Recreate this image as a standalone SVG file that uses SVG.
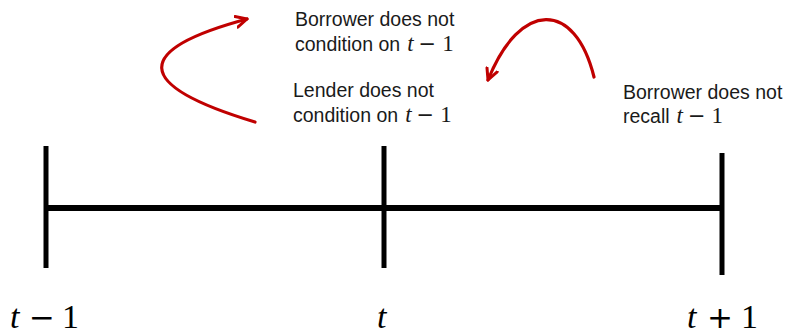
<svg xmlns="http://www.w3.org/2000/svg" width="793" height="334" viewBox="0 0 793 334">
<style>
.lbl{font-family:"Liberation Sans",Arial,sans-serif;font-size:19.5px;fill:#1a1a1a}
.m{font-family:"Liberation Serif","DejaVu Serif",serif;font-size:23px}
.op{font-family:"DejaVu Sans",sans-serif;font-size:21px}
.i{font-style:italic}
.tick{font-family:"Liberation Serif","DejaVu Serif",serif;font-size:34px;fill:#000}
.top{font-family:"DejaVu Sans",sans-serif;font-size:31px}
.axis{stroke:#000;stroke-width:5;fill:none}
.red{stroke:#C00000;stroke-width:3.2;fill:none;stroke-linecap:round}
</style>
<defs>
<marker id="ah" viewBox="0 0 14 14" refX="12" refY="7" markerWidth="14" markerHeight="14" markerUnits="userSpaceOnUse" orient="auto">
<path d="M1,1.5 L12,7 L1,12.5" fill="none" stroke="#C00000" stroke-width="3" stroke-linecap="round" stroke-linejoin="round"/>
</marker>
</defs>
<g id="timeline">
<line class="axis" x1="46" y1="208" x2="722" y2="208" style="stroke-width:6"/>
<line class="axis" x1="46" y1="146" x2="46" y2="268"/>
<line class="axis" x1="384" y1="146" x2="384" y2="268"/>
<line class="axis" x1="722" y1="153" x2="722" y2="275"/>
</g>
<g id="tick-labels">
<text class="tick" y="328"><tspan class="i" x="10">t</tspan><tspan class="top" x="29">−</tspan><tspan x="62">1</tspan></text>
<text class="tick" y="328"><tspan class="i" x="377">t</tspan></text>
<text class="tick" y="328"><tspan class="i" x="687">t</tspan><tspan class="top" x="707">+</tspan><tspan x="741">1</tspan></text>
</g>
<g id="borrower-condition">
<text class="lbl" x="295" y="26">Borrower does not</text>
<text class="lbl" y="51"><tspan x="295">condition on</tspan><tspan class="m i" dx="7">t</tspan><tspan class="op" dx="5">−</tspan><tspan class="m" dx="6">1</tspan></text>
</g>
<g id="lender-condition">
<text class="lbl" x="293" y="97">Lender does not</text>
<text class="lbl" y="122"><tspan x="293">condition on</tspan><tspan class="m i" dx="7">t</tspan><tspan class="op" dx="5">−</tspan><tspan class="m" dx="6">1</tspan></text>
</g>
<g id="borrower-recall">
<text class="lbl" x="623" y="99">Borrower does not</text>
<text class="lbl" y="123"><tspan x="623">recall</tspan><tspan class="m i" dx="7">t</tspan><tspan class="op" dx="5">−</tspan><tspan class="m" dx="6">1</tspan></text>
</g>
<g id="connectors">
<path class="red" d="M255,122 C132,85 132,50 247,19" marker-end="url(#ah)"/>
<path class="red" d="M594,77 C575,0 520,0 488,80" marker-end="url(#ah)"/>
</g>
</svg>
